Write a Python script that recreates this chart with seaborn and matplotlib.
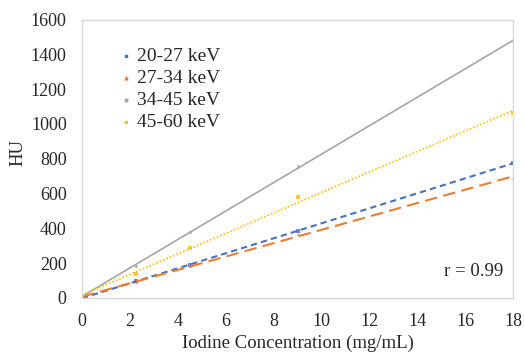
import numpy as np
import pandas as pd
import matplotlib
matplotlib.use("Agg")
import matplotlib.pyplot as plt
import seaborn as sns

conc = [0, 2.25, 4.5, 9, 18]
hu_20_27 = [0, 95, 192, 383, 775]
hu_27_34 = [0, 92, 185, 365, 692]
hu_34_45 = [10, 185, 377, 756, 1475]
hu_45_60 = [5, 140, 290, 580, 1060]
labels = ["20-27 keV", "27-34 keV", "34-45 keV", "45-60 keV"]

sns.set_theme(style="white")
plt.rcParams['font.family'] = ['Liberation Serif', 'DejaVu Serif']

W, H = 525, 352
L, R, T, B = 82, 513, 19.5, 298
fig = plt.figure(figsize=(W/100, H/100), dpi=100)
ax = fig.add_axes([L/W, 1-B/H, (R-L)/W, (B-T)/H])

series = [hu_20_27, hu_27_34, hu_34_45, hu_45_60]
colors = ["#4472C4", "#ED7D31", "#A5A5A5", "#FFC000"]
markers = ["s", "^", "o", "s"]
styles = [(0, (3, 2)), (0, (6, 3)), "-", (0, (1, 1.2))]
lws = [1.5, 1.5, 1.2, 1.2]

for vals, lab, c, m, ls, lw in zip(series, labels, colors, markers, styles, lws):
    df = pd.DataFrame({"x": conc, "y": vals})
    sns.regplot(data=df, x="x", y="y", ax=ax, ci=None, truncate=True,
                marker=m, color=c,
                scatter_kws={"s": 5, "linewidths": 0},
                line_kws={"linestyle": ls, "linewidth": lw})
    ax.scatter([], [], marker=m, color=c, s=4, label=lab)

ax.set_xlim(0, 18)
ax.set_ylim(0, 1600)
ax.set_xticks(range(0, 19, 2))
ax.set_yticks(range(0, 1601, 200))
ax.set_xlabel("Iodine Concentration (mg/mL)", fontsize=13.5, labelpad=3)
ax.set_ylabel("HU", fontsize=13.5)
ax.yaxis.set_label_coords((18 - L) / (R - L), 1 - (152 - T) / (B - T))
ax.yaxis.label.set_va("center")
ax.tick_params(axis="x", labelsize=13, length=0, pad=11)
ax.tick_params(axis="y", labelsize=13, length=0, pad=11)
for sp in ax.spines.values():
    sp.set_color("#D9D9D9")
    sp.set_linewidth(1)

ax.legend(loc="upper left", bbox_to_anchor=(0.085, 0.90), frameon=False,
          fontsize=14, handletextpad=0.15, labelspacing=0.22, handlelength=0.8,
          borderaxespad=0, borderpad=0)
fig.text(503 / W, 1 - 272 / H, "r = 0.99", ha="right", va="center",
         fontsize=13.5)

fig.savefig("out.png", dpi=100)
